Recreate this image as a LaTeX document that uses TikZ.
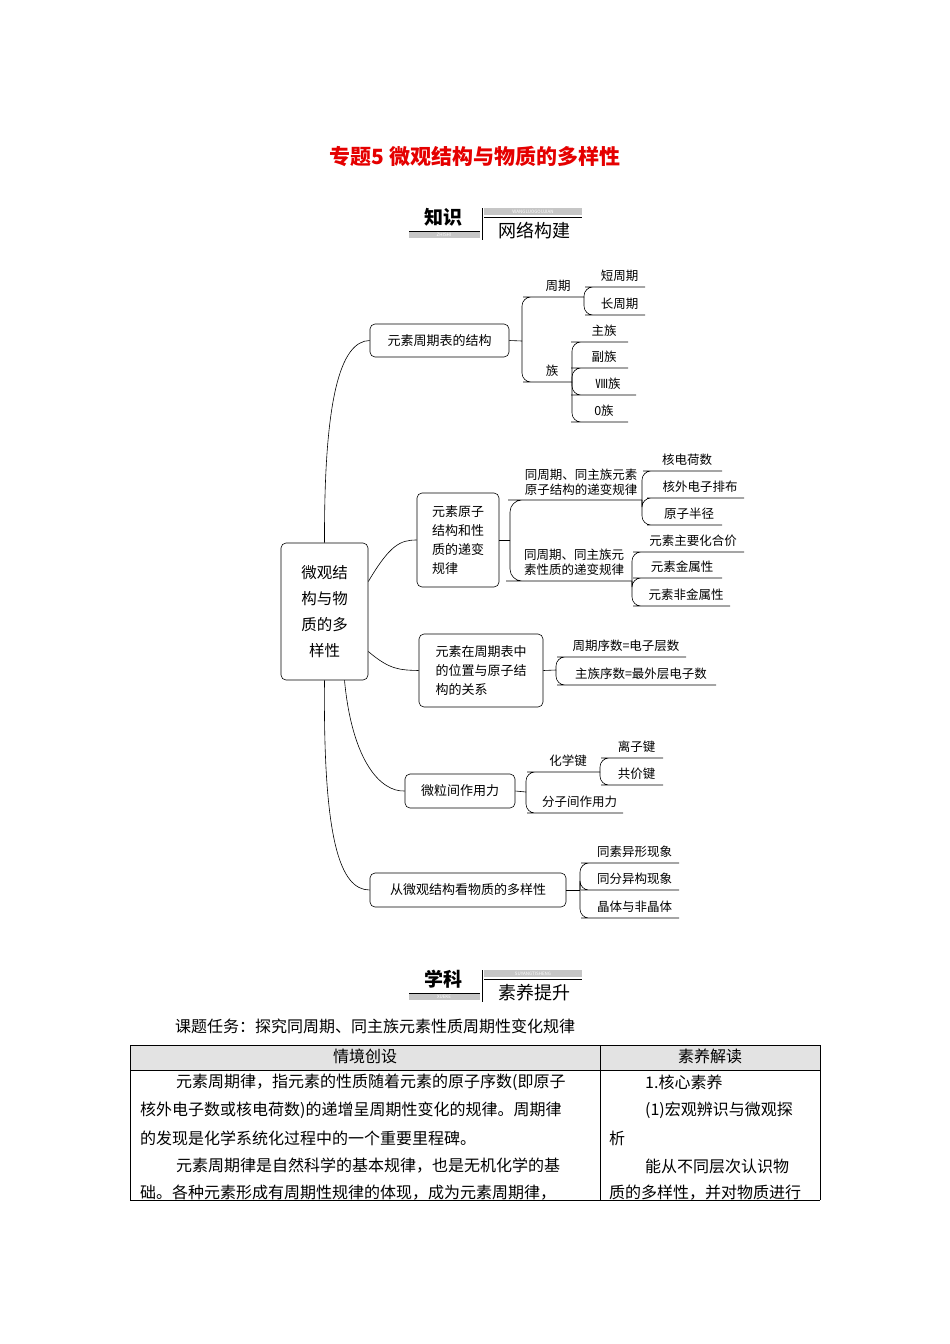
\documentclass[tikz,border=0pt]{standalone}
\usepackage{fontspec}
\setmainfont{Noto Sans CJK SC}
\usetikzlibrary{calc}
\tikzset{
 box/.style={draw,rounded corners=5pt,line width=0.6pt,inner sep=0pt,font=\fontsize{13}{19}\selectfont,align=left},
 lbl/.style={font=\fontsize{12.5}{14.5}\selectfont,inner sep=0pt,align=left},
 ln/.style={line width=0.6pt},
 body/.style={font=\fontsize{16}{18}\selectfont,inner sep=0pt,anchor=west},
}
\newcommand\leaf[6]{%
 \coordinate (#2a) at (#4,#3); \coordinate (#2) at (#5,#3);
 \draw[ln,rounded corners=9pt] (#1) |- (#2a) -- (#2);
 \node[lbl] (#2t) at ($(#2a)!0.5!(#2)+(0,-11)$) {#6};}
\newcommand\badge[5]{% #1 y, #2 big, #3 small, #4 pinyin left, #5 pinyin right
 \fill[gray!45] (409,#1+16) rectangle (480,#1+22);
 \node[font=\fontsize{4.5}{4.5}\selectfont,text=white,inner sep=0pt] (bl#1) at (444,#1+19) {#4};
 \fill[gray!45] (484,#1-8) rectangle (582,#1-1);
 \node[font=\fontsize{4.5}{4.5}\selectfont,text=white,inner sep=0pt] (br#1) at (533,#1-4.5) {#5};
 \draw[line width=0.8pt] (409,#1+15) -- (480,#1+15);
 \draw[line width=0.8pt] (482,#1-8) -- (482,#1+24);
 \draw[line width=0.6pt] (484,#1+1) -- (582,#1+1);
 \node[font=\fontsize{19}{19}\selectfont\bfseries,inner sep=0pt] (bb#1) at (443,#1+1) {#2};
 \node[font=\fontsize{18}{18}\selectfont,inner sep=0pt] (bs#1) at (534,#1+15) {#3};}
\begin{document}
\begin{tikzpicture}[x=1pt,y=-1pt]
\useasboundingbox (0,0) rectangle (950,1344);
\fill[white] (0,0) rectangle (950,1344);
\node[font=\fontsize{21}{21}\selectfont\bfseries,text=red!90!black] (title) at (475,156) {专题5\ 微观结构与物质的多样性};
\badge{216}{知识}{网络构建}{ZHISHI}{WANGLUOGOUJIAN}
\badge{978}{学科}{素养提升}{XUEKE}{SUYANGTISHENG}

% root
\node[box,minimum width=87pt,minimum height=137pt,align=center,font=\fontsize{15.5}{26}\selectfont] (root) at (324.5,611.5) {微观结\\构与物\\质的多\\样性};
\node[box,minimum width=139pt,minimum height=33pt,align=center] (b1) at (439.5,340.5) {元素周期表的结构};
\node[box,minimum width=82pt,minimum height=94pt] (b2) at (458,540) {元素原子\\结构和性\\质的递变\\规律};
\node[box,minimum width=124pt,minimum height=73pt] (b3) at (481,670.5) {元素在周期表中\\的位置与原子结\\构的关系};
\node[box,minimum width=110pt,minimum height=34pt,align=center] (b4) at (460,791) {微粒间作用力};
\node[box,minimum width=196pt,minimum height=34pt,align=center] (b5) at (468,890) {从微观结构看物质的多样性};

\draw[ln] (root.north) .. controls (324,400) and (340,341) .. (b1.west);
\draw[ln] ($(root.east)+(0,-30)$) .. controls (390,545) and (400,540) .. (b2.west);
\draw[ln] ($(root.east)+(0,40)$) .. controls (390,670) and (400,670) .. (b3.west);
\draw[ln] ($(root.south)+(20,0)$) .. controls (352,760) and (380,792) .. (b4.west);
\draw[ln] (root.south) .. controls (323,840) and (340,890) .. (b5.west);

% branch 1
\coordinate (f1) at (522,341); \draw[ln] (b1.east) -- (f1);
\leaf{f1}{zq}{297}{532}{584}{周期}
\leaf{f1}{zu}{382}{532}{572}{族}
\leaf{zq}{dq}{287}{594}{645}{短周期}
\leaf{zq}{cq}{315}{594}{645}{长周期}
\leaf{zu}{z1}{342}{580}{628}{主族}
\leaf{zu}{z2}{368}{580}{628}{副族}
\leaf{zu}{z3}{395}{580}{636}{Ⅷ族}
\leaf{zu}{z4}{422}{580}{628}{0族}

% branch 2
\coordinate (f2) at (510,540); \draw[ln] (b2.east) -- (f2);
\coordinate (aA) at (520,500); \coordinate (A) at (642,500);
\draw[ln,rounded corners=12pt] (f2) |- (aA) -- (A);
\node[lbl] (At) at (581,482) {同周期、同主族元素\\原子结构的递变规律};
\coordinate (aB) at (518,581); \coordinate (B) at (632,581);
\draw[ln,rounded corners=12pt] (f2) |- (aB) -- (B);
\node[lbl] (Bt) at (574,562) {同周期、同主族元\\素性质的递变规律};
\leaf{A}{h1}{471}{652}{722}{核电荷数}
\leaf{A}{h2}{498}{656}{744}{核外电子排布}
\leaf{A}{h3}{525}{656}{722}{原子半径}
\leaf{B}{s1}{552}{642}{744}{元素主要化合价}
\leaf{B}{s2}{578}{642}{722}{元素金属性}
\leaf{B}{s3}{606}{642}{730}{元素非金属性}

% branch 3
\coordinate (f3) at (556,670); \draw[ln] (b3.east) -- (f3);
\leaf{f3}{w1}{657}{566}{686}{周期序数=电子层数}
\leaf{f3}{w2}{685}{566}{716}{主族序数=最外层电子数}

% branch 4
\coordinate (f4) at (526,792); \draw[ln] (b4.east) -- (f4);
\leaf{f4}{hx}{772}{536}{600}{化学键}
\leaf{f4}{fz}{813}{536}{623}{分子间作用力}
\leaf{hx}{lz}{758}{610}{663}{离子键}
\leaf{hx}{gj}{785}{610}{663}{共价键}

% branch 5
\coordinate (f5) at (580,890); \draw[ln] (b5.east) -- (f5);
\leaf{f5}{t1}{863}{590}{679}{同素异形现象}
\leaf{f5}{t2}{890}{590}{679}{同分异构现象}
\leaf{f5}{t3}{918}{590}{679}{晶体与非晶体}

% text and table
\node[body] (task) at (175,1026) {课题任务：探究同周期、同主族元素性质周期性变化规律};
\fill[gray!22] (130,1045) rectangle (820,1070);
\draw[line width=0.7pt] (130,1200) -- (130,1045) -- (820,1045) -- (820,1200);
\draw[line width=0.7pt] (130,1070) -- (820,1070);
\draw[line width=0.7pt] (600,1045) -- (600,1200);
\draw[line width=0.7pt] (130,1200) -- (820,1200);
\node[font=\fontsize{16}{18}\selectfont,inner sep=0pt] (h1) at (365,1056) {情境创设};
\node[font=\fontsize{16}{18}\selectfont,inner sep=0pt] (h2) at (710,1056) {素养解读};
\node[body] (l1) at (176,1082) {元素周期律，指元素的性质随着元素的原子序数(即原子};
\node[body] (l2) at (140,1110) {核外电子数或核电荷数)的递增呈周期性变化的规律。周期律};
\node[body] (l3) at (140,1138) {的发现是化学系统化过程中的一个重要里程碑。};
\node[body] (l4) at (176,1166) {元素周期律是自然科学的基本规律，也是无机化学的基};
\node[body] (l5) at (140,1193) {础。各种元素形成有周期性规律的体现，成为元素周期律，};
\node[body] (r1) at (645,1082) {1.核心素养};
\node[body] (r2) at (645,1110) {(1)宏观辨识与微观探};
\node[body] (r3) at (609,1138) {析};
\node[body] (r4) at (645,1166) {能从不同层次认识物};
\node[body] (r5) at (609,1193) {质的多样性，并对物质进行};
\end{tikzpicture}
\end{document}
